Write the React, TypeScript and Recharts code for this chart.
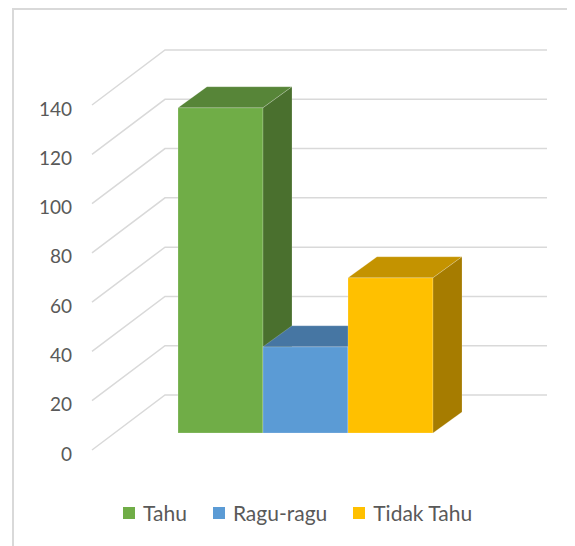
import { Bar, BarChart, CartesianGrid, Legend, XAxis, YAxis } from "recharts"

const seriesNames = ["Tahu", "Ragu-ragu", "Tidak Tahu"]
const seriesValues = [132, 35, 63]
const yTicks = [0, 20, 40, 60, 80, 100, 120, 140]

const frontColors = ["#70AD47", "#5B9BD5", "#FFC000"]
const topColors = ["#578538", "#4676A3", "#C49300"]
const sideColors = ["#4A702E", "#3B6590", "#A67C00"]

const data = [
  Object.fromEntries([["name", ""], ...seriesNames.map((n, i) => [n, seriesValues[i]])]),
]

const FONT = "Lato, 'Open Sans', sans-serif"
const TEXT = "#595959"
const GRID = "#D9D9D9"

// 3d look: the floor runs from the front edge to the back wall,
// bars stand in the middle of it (plot area = front face of bars)
const FRONT_DX = 23
const FRONT_DY = 17
const BACK_DX = 50
const BACK_DY = 38
const BAR_DX = 29
const BAR_DY = 21
const TICK_RIGHT = 64

function gridLine(props: any) {
  const { x1, x2, y1 } = props
  const pts = [
    `${x1 - FRONT_DX},${y1 + FRONT_DY}`,
    `${x1 + BACK_DX},${y1 - BACK_DY}`,
    `${x2 + BACK_DX},${y1 - BACK_DY}`,
  ].join(" ")
  return <polyline key={props.key} points={pts} fill="none" stroke={GRID} strokeWidth={1.5} />
}

function yTick(props: any) {
  const { y, payload } = props
  return (
    <text
      x={TICK_RIGHT}
      y={y + FRONT_DY + 3}
      textAnchor="end"
      dominantBaseline="central"
      fill={TEXT}
      fontFamily={FONT}
      fontSize={19}
    >
      {payload.value}
    </text>
  )
}

function box(i: number) {
  return (props: any) => {
    const { x, y, width, height } = props
    const b = y + height
    const r = x + width
    const top = `${x},${y} ${x + BAR_DX},${y - BAR_DY} ${r + BAR_DX},${y - BAR_DY} ${r},${y}`
    const side = `${r},${y} ${r + BAR_DX},${y - BAR_DY} ${r + BAR_DX},${b - BAR_DY} ${r},${b}`
    const edge = "rgba(255,255,255,0.25)"
    return (
      <g>
        <rect x={x} y={y} width={width} height={height} fill={frontColors[i]} stroke={edge} strokeWidth={0.8} />
        <polygon points={top} fill={topColors[i]} stroke={edge} strokeWidth={0.8} />
        <polygon points={side} fill={sideColors[i]} stroke={edge} strokeWidth={0.8} />
      </g>
    )
  }
}

function legendContent(props: any) {
  const items = [...props.payload].sort(
    (a: any, b: any) => seriesNames.indexOf(a.value) - seriesNames.indexOf(b.value)
  )
  return (
    <div
      style={{
        display: "flex",
        paddingLeft: 115,
        fontFamily: FONT,
        fontSize: 21,
        color: TEXT,
        lineHeight: "23px",
      }}
    >
      {items.map((entry: any) => (
        <span key={entry.value} style={{ display: "inline-flex", alignItems: "center", marginRight: 26 }}>
          <span style={{ width: 12, height: 12, background: entry.color, marginRight: 8 }} />
          {entry.value}
        </span>
      ))}
    </div>
  )
}

export default function App() {
  return (
    <div style={{ position: "relative", width: 567, height: 538 }}>
      <div
        style={{
          position: "absolute",
          left: 4,
          top: 0,
          right: 0,
          bottom: 0,
          borderTop: "2px solid #D9D9D9",
          borderLeft: "2px solid #D9D9D9",
        }}
      />
      <BarChart
        width={567}
        height={538}
        data={data}
        margin={{ top: 80, right: 78, left: 0, bottom: 90 }}
        barCategoryGap={63}
        barGap={0}
      >
        <CartesianGrid vertical={false} horizontal={gridLine} />
        <XAxis dataKey="name" hide />
        <YAxis
          width={107}
          domain={[0, 140]}
          ticks={yTicks}
          axisLine={false}
          tickLine={false}
          tick={yTick}
        />
        <Legend
          verticalAlign="bottom"
          content={legendContent}
          wrapperStyle={{ top: 493, bottom: "auto", left: 0, width: 567 }}
        />
        {seriesNames.map((name, i) => (
          <Bar key={name} dataKey={name} fill={frontColors[i]} shape={box(i)} isAnimationActive={false} />
        ))}
      </BarChart>
    </div>
  )
}
